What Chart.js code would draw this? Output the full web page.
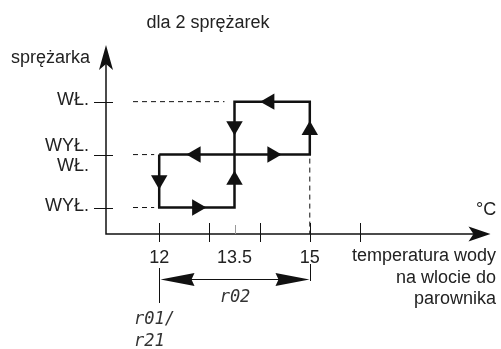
<!DOCTYPE html>
<html>
<head>
<meta charset="utf-8">
<script src="https://cdn.jsdelivr.net/npm/chart.js@4"></script>
<style>
  html, body { margin: 0; padding: 0; background: #fff; }
  canvas { display: block; }
</style>
</head>
<body>
<canvas id="wykres" width="501" height="349"></canvas>
<script>
// dane wykresu
const stopnieX = [12, 13, 14, 15, 16];
const etykietyX = ["12", "13.5", "15"];
const wartosciEtykietX = [12, 13.5, 15];
const poziomy = [0.5, 1.5, 2.5];
const etykietyPoziomow = [["WYŁ."], ["WYŁ.", "WŁ."], ["WŁ."]];

// petla histerezy dla 2 sprezarek
const petlaX = [12, 12, 13.5, 13.5, 15, 15, 12];
const petlaY = [1.5, 0.5, 0.5, 2.5, 2.5, 1.5, 1.5];

// strzalki kierunku na petli
const strzalkiX = [12, 12.75, 13.5, 13.5, 12.73, 14.25, 15, 14.2];
const strzalkiY = [1.02, 0.5, 1.02, 2.04, 1.5, 1.5, 1.96, 2.5];
const strzalkiKat = [180, 90, 0, 180, 270, 90, 0, 270];

const czcionka = '18px "Liberation Sans", Arial, sans-serif';
const czcionkaSeg = 'italic 17px "DejaVu Sans Mono", monospace';

function grotStrzalki(ctx, x, y, kat, dl, pol, wciecie) {
  ctx.save();
  ctx.translate(x, y);
  ctx.rotate(kat);
  ctx.beginPath();
  ctx.moveTo(0, 0);
  ctx.lineTo(-dl, -pol);
  ctx.lineTo(-dl + wciecie, 0);
  ctx.lineTo(-dl, pol);
  ctx.closePath();
  ctx.fill();
  ctx.restore();
}

//rysowanie osi, opisow i linii pomocniczych
const dodatki = {
  id: "dodatki",
  beforeDatasetsDraw(chart) {
    const ctx = chart.ctx;
    const sx = chart.scales.x;
    const sy = chart.scales.y;
    const x0 = sx.getPixelForValue(sx.min);
    const y0 = sy.getPixelForValue(0);
    ctx.save();
    ctx.strokeStyle = "#111";
    ctx.fillStyle = "#111";

    // linie przerywane
    ctx.lineWidth = 1;
    ctx.setLineDash([5, 4]);
    ctx.beginPath();
    ctx.moveTo(133, sy.getPixelForValue(2.5));
    ctx.lineTo(sx.getPixelForValue(13.3), sy.getPixelForValue(2.5));
    ctx.moveTo(133, sy.getPixelForValue(1.5));
    ctx.lineTo(sx.getPixelForValue(11.9), sy.getPixelForValue(1.5));
    ctx.moveTo(133, sy.getPixelForValue(0.5));
    ctx.lineTo(sx.getPixelForValue(11.9), sy.getPixelForValue(0.5));
    ctx.moveTo(sx.getPixelForValue(15), sy.getPixelForValue(1.5) + 4);
    ctx.lineTo(sx.getPixelForValue(15), y0);
    ctx.stroke();
    ctx.setLineDash([]);

    // osie
    ctx.lineWidth = 1.5;
    ctx.beginPath();
    ctx.moveTo(x0, sy.getPixelForValue(sy.max) + 10);
    ctx.lineTo(x0, y0);
    ctx.lineTo(sx.getPixelForValue(sx.max) - 10, y0);
    ctx.stroke();
    grotStrzalki(ctx, x0, sy.getPixelForValue(sy.max), -Math.PI / 2, 25, 7, 6);
    grotStrzalki(ctx, sx.getPixelForValue(sx.max) - 1, y0, 0, 22, 7.5, 5);

    // kreski podzialki
    ctx.lineWidth = 1;
    ctx.beginPath();
    stopnieX.forEach((v) => {
      const px = Math.round(sx.getPixelForValue(v)) + 0.5;
      ctx.moveTo(px, y0 - 11);
      ctx.lineTo(px, y0 + 8);
    });
    poziomy.forEach((v) => {
      const py = Math.round(sy.getPixelForValue(v)) + 0.5;
      ctx.moveTo(x0 - 12, py);
      ctx.lineTo(x0 + 7, py);
    });
    ctx.stroke();
    ctx.strokeStyle = "#999";
    ctx.beginPath();
    ctx.moveTo(Math.round(sx.getPixelForValue(13.5)) + 0.5, y0 - 9);
    ctx.lineTo(Math.round(sx.getPixelForValue(13.5)) + 0.5, y0);
    ctx.stroke();

    // opisy
    ctx.fillStyle = "#222";
    ctx.font = czcionka;
    ctx.textAlign = "center";
    ctx.textBaseline = "alphabetic";
    ctx.fillText("dla 2 sprężarek", 208, 28);
    etykietyX.forEach((t, i) => {
      ctx.fillText(t, sx.getPixelForValue(wartosciEtykietX[i]), 263);
    });
    ctx.textAlign = "left";
    ctx.fillText("sprężarka", 11, 63);
    ctx.fillText("°C", 476, 215);
    ctx.textAlign = "right";
    etykietyPoziomow.forEach((linie, i) => {
      const py = sy.getPixelForValue(poziomy[i]);
      if (linie.length === 1) {
        ctx.fillText(linie[0], 89, py + 3);
      } else {
        ctx.fillText(linie[0], 89, py - 4);
        ctx.fillText(linie[1], 89, py + 16);
      }
    });
    ctx.fillText("temperatura wody", 496, 261);
    ctx.fillText("na wlocie do", 496, 283);
    ctx.fillText("parownika", 496, 304);

    // wymiar r02
    const p12 = Math.round(sx.getPixelForValue(12)) + 0.5;
    const p15 = Math.round(sx.getPixelForValue(15)) + 0.5;
    ctx.strokeStyle = "#111";
    ctx.fillStyle = "#111";
    ctx.lineWidth = 1;
    ctx.beginPath();
    ctx.moveTo(p12, 268);
    ctx.lineTo(p12, 303);
    ctx.moveTo(p15, 264);
    ctx.lineTo(p15, 281);
    ctx.moveTo(p12 + 20, 279.5);
    ctx.lineTo(p15 - 20, 279.5);
    ctx.stroke();
    grotStrzalki(ctx, p12 + 1, 279.5, Math.PI, 34, 6.5, 3);
    grotStrzalki(ctx, p15 - 1, 279.5, 0, 34, 6.5, 3);

    ctx.fillStyle = "#333";
    ctx.font = czcionkaSeg;
    ctx.textAlign = "center";
    ctx.fillText("r02", (p12 + p15) / 2, 302);
    ctx.textAlign = "left";
    ctx.fillText("r01/", 134, 324);
    ctx.fillText("r21", 134, 346);
    ctx.restore();
  },
};

new Chart(document.getElementById("wykres"), {
  type: "scatter",
  data: {
    datasets: [
      {
        data: petlaX.map((x, i) => ({ x: x, y: petlaY[i] })),
        showLine: true,
        borderColor: "#111",
        borderWidth: 2.5,
        pointRadius: 0,
        tension: 0,
      },
      {
        data: strzalkiX.map((x, i) => ({ x: x, y: strzalkiY[i] })),
        pointStyle: "triangle",
        pointRadius: 9.5,
        pointRotation: strzalkiKat,
        backgroundColor: "#111",
        borderColor: "#111",
        borderWidth: 0,
      },
    ],
  },
  options: {
    responsive: false,
    animation: false,
    layout: {
      padding: { left: 106, right: 3, top: 45, bottom: 115 },
    },
    plugins: {
      legend: { display: false },
      tooltip: { enabled: false },
    },
    scales: {
      x: { type: "linear", min: 10.94, max: 18.62, display: false },
      y: { type: "linear", min: 0, max: 3.57, display: false },
    },
  },
  plugins: [dodatki],
});
</script>
</body>
</html>
